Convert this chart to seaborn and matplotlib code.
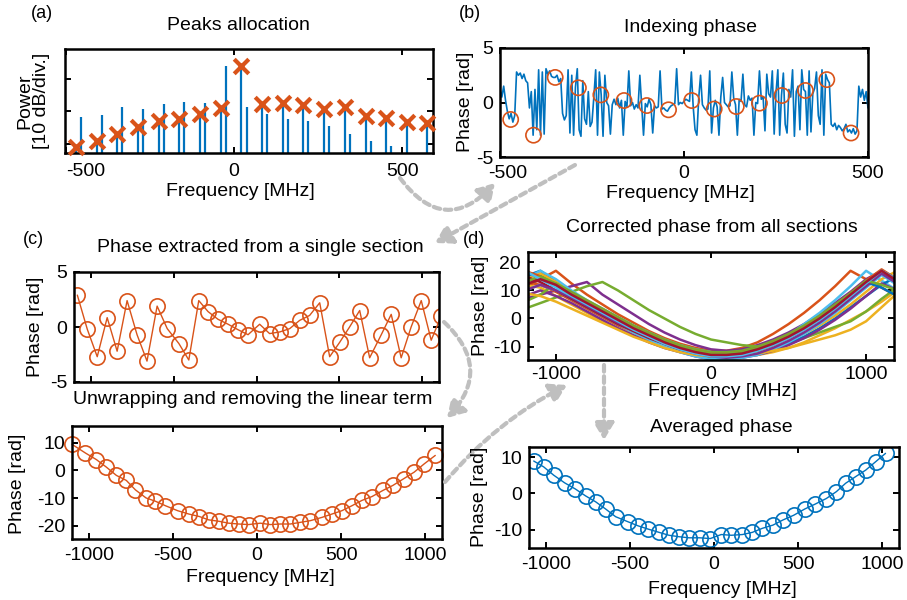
import numpy as np
import pandas as pd
import seaborn as sns
import matplotlib.pyplot as plt
from matplotlib.patches import FancyArrowPatch
from matplotlib.transforms import ScaledTranslation

sns.set_theme(style="ticks")
plt.rcParams['font.family'] = ['Liberation Sans', 'DejaVu Sans']
plt.rcParams['axes.unicode_minus'] = False

BLUE = '#0072BD'
ORANGE = '#D95319'
MATLAB_ORDER = ['#0072BD', '#D95319', '#EDB120', '#7E2F8E', '#77AC30', '#4DBEEE', '#A2142F']

# ---- (a) peaks allocation ----
PEAK_FREQ = [-471, -409, -348, -286, -223, -164, -101, -39, 22, 83, 146, 205, 268, 330, 393, 452, 515, 574]
PEAK_POWER = [-1.0, 0.9, 3.1, 5.3, 6.9, 7.6, 9.2, 11.0, 24.0, 12.3, 12.7, 12.0, 10.7, 11.2, 8.7, 7.9, 6.7, 6.4]
SAT_FREQ = [-455, -393, -332, -270, -207, -148, -85, -23, 38, 99, 162, 221, 284, 346, 409, 468]
SAT_POWER = [8.2, 8.9, 11.2, 10.8, 12.2, 12.9, 12.5, 24.1, 11.2, 9.2, 7.6, 7.1, 5.5, 3.1, 0.9, -0.8]

# ---- (b) indexing phase ----
B_PHASE = [1.2, 0.5, 1.5, 0.2,
           -0.8, -1.5, -1.0, -1.8, -1.2,
           2.8, 2.5, 2.7, 2.2, 2.6, 2.0, 1.8,
           -0.5, 1.0, -3.0, 1.2, -2.5,
           3.0, -3.0, 2.8, -2.9, 3.1,
           2.6, 2.9, 2.4, 2.3, 2.3, 2.5, 1.9, 2.2,
           -1.0, -1.6, -1.2,
           3.0, -2.8, 2.5, -3.0, 1.4, 3.1, -2.5, -3.1, 2.0,
           -1.5, -2.0, 1.0, -2.2, -1.8, 0.5,
           3.0, -3.0, 2.8, 0.7, -3.1, 2.5,
           0.0, -0.3, -2.9, -0.2,
           0.3, -0.2, 0.4, -0.5, 0.2, -3.0, 0.1, -0.4, 2.9, -0.3, 0.0, -0.6,
           -0.2, -0.5, 2.5, -0.3, -3.0, -0.1, -0.4, 0.3, -0.2, -2.8,
           -0.3, -0.5, -0.4, 2.9, -0.6, -0.5, -0.7, -0.8,
           -0.5, -0.3, -0.2, -0.1, 3.1, -0.2, 0.0, -0.1, 0.1,
           0.3, 0.2, 0.1, 2.8, -0.4, -2.5, -3.0, 0.4, 2.5, -0.2, -0.5, -0.7,
           -0.6, 2.9, -2.8, -0.5, 0.2, -0.4, -3.0, 0.5, 2.3, 0.0, -0.2, -0.4,
           -0.3, 2.8, 0.4, -0.2, -3.0, 0.3, 0.1, 2.6, -0.2, -0.4, 0.6, 0.2,
           0.4, -3.0, 0.0, -0.1, 2.9, 0.3, 0.5, -2.6, 2.6, 0.8, 0.5, 2.9,
           -2.9, 0.9, 3.0, -3.0, 0.7, 2.7, -2.0, -2.8, 1.2, 0.5, 3.0, -3.1,
           1.0, 1.5, -2.5, 3.0, 1.2, 1.0, -3.0, 2.9, -2.7, 0.8, 1.3, 2.8,
           -1.2, -2.0, 3.0, -3.0, 2.6, 2.1, 1.8, -2.0, -2.2, -1.9, -2.5, -2.1,
           -2.3, -2.6, -2.4, -2.0, -2.7, -2.5, -2.8, -2.4, -2.9, -2.6,
           1.5, 0.5, 1.2, 0.2, 1.0, -0.5]
B_FREQ = np.arange(-500, 505, 5)[:len(B_PHASE)]
B_COMB_FREQ = [-471, -409, -350, -287, -226, -163, -101, -42, 21, 82, 142, 205, 266, 330, 388, 454]
B_COMB_PHASE = [-1.56, -3.0, 2.3, 1.35, 0.7, 0.18, -0.28, -0.67, 0.18, -0.6, -0.37, -0.06, 0.64, 1.1, 2.1, -2.8]

# ---- (c) single section ----
C_FREQ = [-1080, -1020, -960, -900, -840, -780, -720, -660, -599, -538, -468, -408, -348,
          -292, -232, -171, -111, -51, 19, 79, 140, 200, 260, 320, 381, 441, 501, 561,
          622, 682, 752, 812, 872, 932, 993, 1053, 1113]
C_WRAPPED = [2.9, -0.2, -2.7, 0.85, -2.2, 2.4, -0.7, -3.1, 1.9, -0.15, -1.5, -3.0, 2.4,
             1.4, 0.7, 0.25, -0.25, -0.7, 0.25, -0.6, -0.45, -0.15, 0.6, 1.05, 2.2, -2.7,
             -1.4, 0.0, 1.5, -2.8, -0.7, 1.15, -2.8, 0.0, 2.4, -1.2, 1.0]
C_UNWRAP_FREQ = [-1100, -1021, -955, -896, -836, -777, -723, -660, -604, -545, -472, -406,
                 -343, -288, -228, -169, -109, -50, 20, 79, 139, 198, 258, 317, 387, 446,
                 505, 565, 624, 684, 749, 808, 872, 935, 995, 1060]
C_UNWRAPPED = [9.4, 6.3, 3.9, 1.2, -1.8, -3.6, -7.0, -9.9, -11.1, -12.7, -14.5, -15.7,
               -16.6, -17.8, -18.3, -19.0, -19.3, -19.5, -19.0, -19.5, -19.3, -19.3, -18.7,
               -18.1, -16.9, -15.7, -14.5, -12.7, -10.8, -9.4, -7.2, -5.4, -3.0, -0.6, 2.4, 5.4]

# ---- (d) all sections and average ----
D_GRID = [-1200, -1100, -1000, -900, -800, -700, -600, -500, -400, -300, -200, -100, 0,
          100, 200, 300, 400, 500, 600, 700, 800, 900, 1000, 1100, 1200]
D_SECTIONS = [
    [15, 17, 13, 9.5, 6, 3, 0, -3, -5.5, -8, -10, -11.5, -12.5, -13, -12.5, -11.5, -9.5, -7, -4, -0.5, 3.5, 8, 12.5, 16.5, 12],
    [11, 14, 17, 12.5, 8.5, 5, 1.5, -1.5, -4.5, -7, -9, -10.5, -11.5, -11.5, -10.5, -8.5, -5.5, -2, 2, 6.5, 11.5, 17, 14, 11, 8],
    [12, 11, 8, 5, 2, -1, -3.5, -6, -8, -10, -11.5, -12.5, -13, -13.5, -13.5, -13, -12, -10.5, -8.5, -6, -3.5, -0.5, 2.5, 6, 10],
    [7, 8.5, 10, 11.5, 13, 8.5, 5, 1.5, -2, -5, -7.5, -9.5, -11, -11.5, -11, -9.5, -7.5, -5, -2, 1.5, 5.5, 9.5, 14, 17, 13],
    [3.5, 5.5, 7.5, 9.5, 11.5, 13, 10, 6.5, 3, 0, -3, -5.5, -7.5, -8.5, -9.5, -10, -10, -9, -7, -5, -3, -1, 2.5, 7, 11],
    [14, 17, 14, 10, 6.5, 3.5, 0.5, -2.5, -5, -7.5, -9.5, -11, -12, -12.5, -12, -11, -9, -6, -2, 2, 6.5, 11.5, 17, 13.5, 10],
    [13, 15, 12, 8.5, 5, 2, -1, -4, -6.5, -8.5, -10.5, -12, -13, -13, -12.5, -11, -9, -6.5, -3.5, 0, 4, 8.5, 13, 17, 13],
    [12, 14, 11.5, 8, 4.5, 1.5, -1.5, -4.5, -7, -9.5, -11.5, -13, -14, -14, -13.5, -12.5, -11, -9, -6.5, -3.5, 0, 4, 8, 12, 15],
    [13, 12, 9.5, 6.5, 3.5, 0.5, -2.5, -5, -7.5, -9.5, -11, -12, -12.5, -12.5, -12, -10.5, -8.5, -6, -3, 0.5, 4.5, 9, 13.5, 17, 13],
    [14, 16, 13, 9, 5.5, 2.5, -0.5, -3.5, -6, -8.5, -10.5, -12, -13, -13, -12.5, -11.5, -10, -8, -5.5, -2.5, 1, 5, 9.5, 14, 17],
    [8, 10, 8, 5.5, 2.5, -0.5, -3.5, -6, -8.5, -10.5, -12, -13.5, -14.5, -14.5, -14, -13, -11.5, -9.5, -7, -4, -0.5, 3.5, 8, 12.5, 10],
    [6, 8.5, 12.5, 9.5, 6.5, 3.5, 0.5, -2.5, -5, -7.5, -9.5, -11, -12, -12, -11.5, -10, -8, -5.5, -2.5, 1, 5, 9, 13, 17, 13],
    [10, 12, 10, 7, 4, 1, -2, -5, -7.5, -10, -12, -13.5, -14.5, -14.5, -14, -13, -11, -8.5, -5.5, -2, 2, 6.5, 11, 15.5, 12],
    [15, 13, 10, 7, 4, 1, -2, -4.5, -7, -9, -11, -12.5, -13.5, -13.5, -13, -11.5, -9.5, -7, -4, -0.5, 3.5, 8, 12.5, 17, 13],
    [16, 15, 12, 9, 5.5, 2.5, -0.5, -3.5, -6, -8.5, -10.5, -12, -13, -13, -12.5, -11, -9, -6.5, -3.5, 0, 4, 8.5, 13, 11, 8],
    [17, 15, 12, 9, 6, 3, 0, -3, -5.5, -8, -10, -11.5, -12.5, -12.5, -12, -10.5, -8.5, -6, -3, 0.5, 4.5, 9, 13.5, 17.5, 14],
    [9, 8, 6, 3.5, 1, -1.5, -4, -6.5, -8.5, -10.5, -12, -13, -13.5, -13.5, -13, -12.5, -11.5, -10.5, -9, -7.5, -6, -4, -1, 4, 9],
    [10, 12, 10, 7.5, 4.5, 1.5, -1.5, -4, -6.5, -9, -11, -12.5, -13.5, -14, -13.5, -12.5, -10.5, -8, -5, -1.5, 2.5, 7, 11.5, 16, 12.5],
    [13, 15, 12.5, 9, 6, 3, 0, -3, -5.5, -8, -10, -11.5, -12.5, -12.5, -12, -10.5, -8.5, -6, -3, 0.5, 4.5, 9, 13.5, 12, 10],
    [17, 14, 11, 8, 5, 2, -1, -4, -6.5, -9, -11, -12.5, -13.5, -13.5, -13, -11.5, -9.5, -7, -4, -0.5, 3.5, 8, 12.5, 17, 14],
    [12, 14, 12, 8.5, 5.5, 2.5, -0.5, -3.5, -6, -8.5, -10.5, -12, -13, -13, -12.5, -11, -9, -6.5, -3.5, 0, 4, 8.5, 13, 17, 13.5],
]
AVG_FREQ = [-1072, -1013, -953, -888, -824, -763, -704, -644, -585, -511, -452, -392, -327,
            -268, -208, -149, -85, -22, 43, 103, 169, 228, 287, 351, 410, 474, 539, 599,
            668, 728, 783, 842, 902, 961, 1020]
AVG_PHASE = [8.9, 7.3, 5.0, 2.9, 1.2, -0.7, -2.3, -4.3, -6.4, -7.8, -8.9, -9.8, -10.7,
             -11.5, -11.9, -12.2, -12.2, -12.4, -11.3, -11.5, -11.3, -10.7, -9.6, -8.7,
             -7.3, -6.0, -4.3, -3.0, -1.4, 0.5, 2.8, 4.6, 6.4, 8.7, 11.0]

W, H = 907, 600
fig = plt.figure(figsize=(W / 100, H / 100), dpi=100)


def box(l, t, r, b):
    return fig.add_axes([l / W, 1 - b / H, (r - l) / W, (b - t) / H])


def matlab_style(ax, xpad=5.5):
    for s in ax.spines.values():
        s.set_linewidth(1.8)
        s.set_color('black')
    ax.tick_params(direction='in', top=True, right=True, length=4, width=1.4,
                   labelsize=14, colors='black')
    ax.tick_params(axis='x', pad=xpad)
    ax.tick_params(axis='y', pad=5)
    ax.grid(False)


def ftext(x, y, s, **kw):
    fig.text(x / W, 1 - y / H, s, ha='center', va='center', color='black', **kw)


# (a)
ax_a = box(65, 49, 433, 153)
ax_a.vlines(PEAK_FREQ, -5, PEAK_POWER, color=BLUE, lw=1.6)
ax_a.vlines(SAT_FREQ, -5, SAT_POWER, color=BLUE, lw=1.6)
sns.scatterplot(x=PEAK_FREQ, y=PEAK_POWER, marker='x', s=110, color=ORANGE,
                linewidth=3, ax=ax_a, zorder=3, clip_on=False)
ax_a.set(xlim=(-503, 592), ylim=(-2.8, 29.2), xticks=[-500, 0, 500], yticks=[0, 10, 20])
ax_a.set_yticklabels([])
matlab_style(ax_a, xpad=7.5)
ax_a.get_xticklabels()[0].set_ha('left')

# (b)
ax_b = box(500, 48, 868, 157)
sns.lineplot(x=B_FREQ, y=B_PHASE, color=BLUE, lw=1.2, ax=ax_b, sort=False, estimator=None)
sns.scatterplot(x=B_COMB_FREQ, y=B_COMB_PHASE, marker='o', s=120, facecolor='none',
                edgecolor=ORANGE, linewidth=1.2, ax=ax_b, zorder=3)
ax_b.set(xlim=(-500, 500), ylim=(-5, 5), xticks=[-500, 0, 500], yticks=[-5, 0, 5])
matlab_style(ax_b)
first = ax_b.get_xticklabels()[0]
first.set_transform(first.get_transform() + ScaledTranslation(0.08, 0, fig.dpi_scale_trans))

# (c) top
ax_c1 = box(74, 272, 439, 382)
sns.lineplot(x=C_FREQ, y=C_WRAPPED, color=ORANGE, lw=1.0, marker='o', markersize=11,
             markerfacecolor='none', markeredgecolor=ORANGE, markeredgewidth=1.2,
             ax=ax_c1, sort=False, estimator=None)
ax_c1.set(xlim=(-1100, 1100), ylim=(-5, 5), xticks=[-1000, -500, 0, 500, 1000], yticks=[-5, 0, 5])
ax_c1.set_xticklabels([])
matlab_style(ax_c1)

# (c) bottom
ax_c2 = box(72, 426, 442, 539)
sns.lineplot(x=C_UNWRAP_FREQ, y=C_UNWRAPPED, color=ORANGE, lw=1.0, marker='o', markersize=11,
             markerfacecolor='none', markeredgecolor=ORANGE, markeredgewidth=1.2,
             ax=ax_c2, sort=False, estimator=None, clip_on=False)
ax_c2.set(xlim=(-1100, 1100), ylim=(-24.7, 16), xticks=[-1000, -500, 0, 500, 1000],
          yticks=[-20, -10, 0, 10])
matlab_style(ax_c2)

# (d) top
rows = []
for i, sec in enumerate(D_SECTIONS):
    for f, p in zip(D_GRID, sec):
        rows.append((i, f, p))
d_df = pd.DataFrame(rows, columns=['section', 'freq', 'phase'])
pal = [MATLAB_ORDER[i % 7] for i in range(len(D_SECTIONS))]
ax_d1 = box(528, 252, 894, 360)
sns.lineplot(data=d_df, x='freq', y='phase', hue='section', palette=pal, lw=1.8,
             legend=False, ax=ax_d1, sort=False, estimator=None)
ax_d1.set(xlim=(-1180, 1180), ylim=(-14.8, 23.7), xticks=[-1000, 0, 1000], yticks=[-10, 0, 10, 20])
matlab_style(ax_d1, xpad=4.5)

# (d) bottom
ax_d2 = box(529, 447, 899, 548)
sns.lineplot(x=AVG_FREQ, y=AVG_PHASE, color=BLUE, lw=1.0, marker='o', markersize=11,
             markerfacecolor='none', markeredgecolor=BLUE, markeredgewidth=1.2,
             ax=ax_d2, sort=False, estimator=None)
ax_d2.set(xlim=(-1100, 1100), ylim=(-15, 12.75), xticks=[-1000, -500, 0, 500, 1000],
          yticks=[-10, 0, 10])
matlab_style(ax_d2)

for ax in [ax_a, ax_b, ax_c1, ax_c2, ax_d1, ax_d2]:
    ax.set_xlabel('')
    ax.set_ylabel('')

# titles, labels, panel letters
ftext(238, 25, 'Peaks allocation', fontsize=14)
ftext(690, 27, 'Indexing phase', fontsize=14)
ftext(260, 247, 'Phase extracted from a single section', fontsize=14)
ftext(253, 400, 'Unwrapping and removing the linear term', fontsize=14)
ftext(712, 227, 'Corrected phase from all sections', fontsize=14)
ftext(721, 428, 'Averaged phase', fontsize=14)
ftext(42, 14, '(a)', fontsize=13)
ftext(470, 14, '(b)', fontsize=13)
ftext(33, 239, '(c)', fontsize=13)
ftext(474, 240, '(d)', fontsize=13)
for x, y in [(240, 191), (680, 193), (260, 578), (722, 392), (722, 590)]:
    ftext(x, y, 'Frequency [MHz]', fontsize=14)
ftext(33, 101, 'Power\n[10 dB/div.]', fontsize=14, rotation=90, linespacing=1.0)
for x, y in [(466, 102), (35, 327), (18, 484), (480, 306), (479, 497)]:
    ftext(x, y, 'Phase [rad]', fontsize=14, rotation=90)

# dashed gray arrows between panels
ARROWS = [((400, 178), (495, 183), 0.6), ((575, 165), (435, 243), 0.0),
          ((444, 322), (447, 418), -0.5), ((445, 482), (567, 385), -0.1),
          ((604, 365), (604, 440), 0.0)]
for (xa, ya), (xb, yb), rad in ARROWS:
    arr = FancyArrowPatch((xa / W, 1 - ya / H), (xb / W, 1 - yb / H), transform=fig.transFigure,
                          connectionstyle=f'arc3,rad={rad}', arrowstyle='-|>,head_length=0.5,head_width=0.3',
                          mutation_scale=20, color='#bfbfbf', lw=3, linestyle=(0, (1.6, 1.1)),
                          shrinkA=0, shrinkB=0)
    fig.patches.append(arr)

fig.savefig('out.png', dpi=100)
